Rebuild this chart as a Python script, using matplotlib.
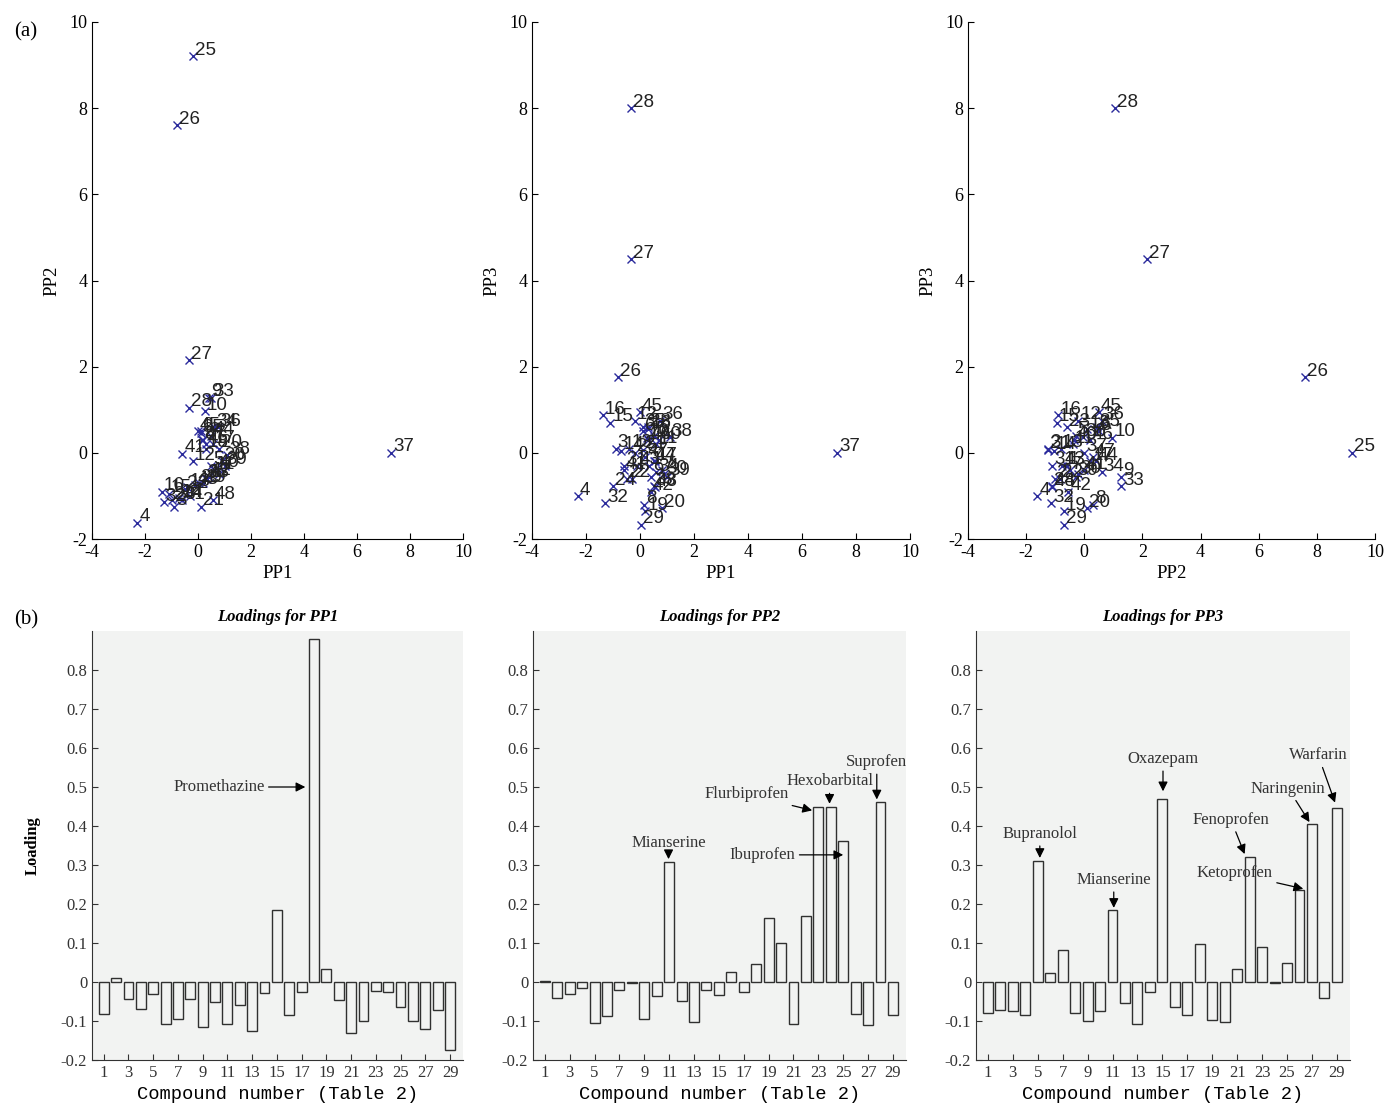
import numpy as np
import matplotlib.pyplot as plt

plt.rcParams['axes.unicode_minus'] = False

# scores of the 48 compounds on the three projection pursuit directions
compound_ids = list(range(1, 49))
pp1 = [0.35, -0.3, -0.9, -2.3, 0.5, 0.1, 0.8, 0.15, 0.4, 0.25,
       0.6, -0.2, -0.4, -0.7, -1.1, -1.37, 0.55, 0.3, 0.2, 0.8,
       0.1, -0.5, 0.3, -1.0, -0.2, -0.8, -0.35, -0.35, 0.05, 0.9,
       -0.6, -1.3, 0.5, 0.6, 0.1, 0.75, 7.3, 1.1, 1.0, 0.7,
       -0.6, 0.4, -0.1, 0.5, 0.0, 0.3, 0.2, 0.55]
pp2 = [-0.6, -1.0, -1.25, -1.62, -0.3, 0.5, -0.5, 0.3, 1.28, 0.97,
       -0.4, -0.2, -0.8, -1.05, -0.95, -0.9, 0.2, 0.1, -0.7, 0.1,
       -1.25, -0.85, -0.6, -1.1, 9.2, 7.6, 2.15, 1.05, -0.7, -0.2,
       -1.1, -1.15, 1.28, 0.6, 0.45, 0.6, 0.0, -0.05, -0.3, -0.35,
       -0.02, -0.55, -0.75, 0.4, 0.5, 0.2, 0.3, -1.1]
pp3 = [-0.3, -0.6, 0.1, -1.0, 0.4, 0.5, -0.4, -1.2, -0.55, 0.35,
       0.2, 0.75, 0.1, 0.05, 0.7, 0.88, -0.2, 0.55, -1.35, -1.28,
       0.07, -0.6, 0.6, -0.77, 0.0, 1.75, 4.5, 8.0, -1.67, -0.5,
       -0.3, -1.17, -0.78, -0.45, 0.6, 0.75, 0.0, 0.37, -0.55, 0.3,
       -0.4, -0.9, -0.3, -0.2, 0.95, 0.3, -0.1, -0.8]

# loadings of the 29 compounds of Table 2
loading_ids = list(range(1, 30))
load_pp1 = [-0.081, 0.010, -0.043, -0.070, -0.032, -0.107, -0.094, -0.043, -0.115, -0.051,
            -0.107, -0.060, -0.126, -0.028, 0.184, -0.085, -0.026, 0.880, 0.034, -0.047,
            -0.132, -0.101, -0.024, -0.026, -0.064, -0.101, -0.120, -0.071, -0.175]
load_pp2 = [0.002, -0.040, -0.032, -0.015, -0.105, -0.088, -0.020, -0.002, -0.094, -0.037,
            0.308, -0.049, -0.103, -0.021, -0.033, 0.026, -0.026, 0.045, 0.165, 0.101,
            -0.107, 0.169, 0.449, 0.450, 0.362, -0.083, -0.110, 0.462, -0.085]
load_pp3 = [-0.079, -0.071, -0.074, -0.084, 0.309, 0.023, 0.083, -0.079, -0.101, -0.074,
            0.184, -0.054, -0.108, -0.026, 0.470, -0.064, -0.084, 0.097, -0.098, -0.102,
            0.033, 0.320, 0.089, -0.003, 0.049, 0.236, 0.405, -0.042, 0.447]

# annotations: (text, text centre, arrow tip)
notes_pp1 = [('Promethazine', (10.3, 0.5), (17.3, 0.5))]
notes_pp2 = [('Mianserine', (10.95, 0.357), (10.95, 0.315)),
             ('Flurbiprofen', (17.25, 0.481), (22.5, 0.44)),
             ('Hexobarbital', (23.9, 0.515), (23.9, 0.457)),
             ('Suprofen', (27.7, 0.564), (27.7, 0.468)),
             ('Ibuprofen', (18.5, 0.326), (25.0, 0.326))]
notes_pp3 = [('Bupranolol', (5.17, 0.38), (5.17, 0.318)),
             ('Mianserine', (11.1, 0.262), (11.1, 0.19)),
             ('Oxazepam', (15.05, 0.572), (15.05, 0.489)),
             ('Fenoprofen', (20.5, 0.416), (21.6, 0.328)),
             ('Ketoprofen', (20.8, 0.279), (26.3, 0.239)),
             ('Naringenin', (25.1, 0.496), (26.8, 0.41)),
             ('Warfarin', (27.5, 0.581), (28.85, 0.46))]

serif = 'Liberation Serif'
W, H = 1387.0, 1104.0

fig = plt.figure(figsize=(13.87, 11.04), dpi=100)


def rect(left, right, top, bottom):
    return [left / W, 1 - bottom / H, (right - left) / W, (bottom - top) / H]


def scatter_panel(r, xs, ys, xlab, ylab):
    ax = fig.add_axes(r)
    ax.plot(xs, ys, 'x', color='#2b2b9c', ms=6, mew=1.0)
    for i, x, y in zip(compound_ids, xs, ys):
        ax.annotate(str(i), (x, y), xytext=(1.5, 1), textcoords='offset points',
                    fontsize=13.5, color='#222222', family='Liberation Sans')
    ax.set_xlim(-4, 10)
    ax.set_ylim(-2, 10)
    ax.set_xticks(np.arange(-4, 11, 2))
    ax.set_yticks(np.arange(-2, 11, 2))
    for s in ['top', 'right']:
        ax.spines[s].set_visible(False)
    ax.tick_params(direction='in', length=4, labelsize=13)
    for lab in ax.get_xticklabels() + ax.get_yticklabels():
        lab.set_family(serif)
    ax.set_xlabel(xlab, family=serif, fontsize=13.5, labelpad=3)
    ax.set_ylabel(ylab, family=serif, fontsize=13.5, labelpad=6)
    return ax


def loading_panel(r, vals, title, notes, ylab=None):
    ax = fig.add_axes(r, facecolor='#f2f3f2')
    ax.bar(loading_ids, vals, width=0.8, facecolor='none', edgecolor='#303030', lw=1.0)
    ax.set_xlim(0.05, 30.05)
    ax.set_ylim(-0.2, 0.9)
    ax.set_xticks(np.arange(1, 30, 2))
    yt = np.round(np.arange(-0.2, 0.81, 0.1), 1)
    ax.set_yticks(yt)
    ax.set_yticklabels(['0' if v == 0 else '%g' % v for v in yt])
    for s in ['top', 'right']:
        ax.spines[s].set_visible(False)
    ax.spines['left'].set_color('#333333')
    ax.spines['bottom'].set_color('#333333')
    ax.tick_params(direction='in', length=4, labelsize=12, colors='#333333')
    for lab in ax.get_xticklabels() + ax.get_yticklabels():
        lab.set_family(serif)
    ax.set_title(title, family=serif, fontsize=12, fontweight='bold', style='italic', pad=7)
    ax.set_xlabel('Compound number (Table 2)', family='Liberation Mono', fontsize=13.5, labelpad=4)
    if ylab:
        ax.set_ylabel(ylab, family=serif, fontsize=12, fontweight='bold', labelpad=14)
    for txt, pos, tip in notes:
        ax.annotate(txt, tip, xytext=pos, ha='center', va='center', family=serif,
                    fontsize=12, color='#333333',
                    arrowprops=dict(arrowstyle='-|>', color='black', lw=0.9,
                                    mutation_scale=14, shrinkA=1, shrinkB=0))
    return ax


scatter_panel(rect(92, 463, 22, 539), pp1, pp2, 'PP1', 'PP2')
scatter_panel(rect(532, 910, 22, 539), pp1, pp3, 'PP1', 'PP3')
scatter_panel(rect(968, 1375, 22, 539), pp2, pp3, 'PP2', 'PP3')

loading_panel(rect(92, 463, 631, 1060), load_pp1, 'Loadings for PP1', notes_pp1, 'Loading')
loading_panel(rect(533, 906, 631, 1060), load_pp2, 'Loadings for PP2', notes_pp2)
loading_panel(rect(976, 1350, 631, 1060), load_pp3, 'Loadings for PP3', notes_pp3)

fig.text(14 / W, 1 - 32 / H, '(a)', family=serif, fontsize=15, va='center')
fig.text(14 / W, 1 - 620 / H, '(b)', family=serif, fontsize=15, va='center')

fig.savefig('out.png', dpi=100)
